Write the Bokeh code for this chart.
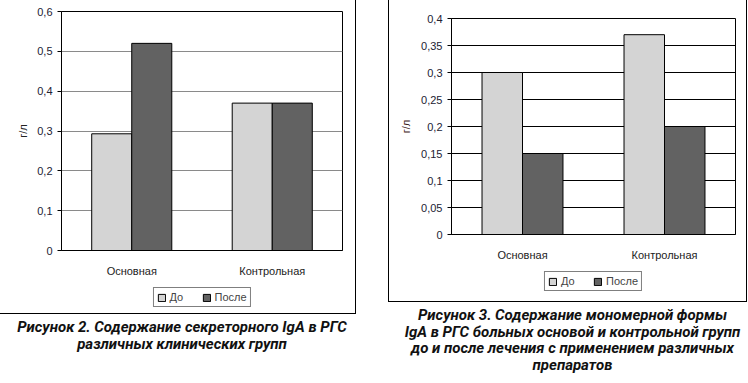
from bokeh.plotting import figure
from bokeh.layouts import row, column
from bokeh.models import (FactorRange, Range1d, FixedTicker, CustomJSTickFormatter,
                          Legend, LegendItem, Div, ColumnDataSource)
from bokeh.transform import dodge
from bokeh.embed import file_html
from bokeh.resources import INLINE

categories = ["Основная", "Контрольная"]
series_names = ["До", "После"]
fig2_before = [0.293, 0.37]
fig2_after = [0.52, 0.37]
fig2_ticks = [0, 0.1, 0.2, 0.3, 0.4, 0.5, 0.6]
fig3_before = [0.30, 0.37]
fig3_after = [0.15, 0.20]
fig3_ticks = [0, 0.05, 0.1, 0.15, 0.2, 0.25, 0.3, 0.35, 0.4]
y_label = "г/л"
caption2 = ["Рисунок 2. Содержание секреторного IgA в РГС", "различных клинических групп"]
caption3 = ["Рисунок 3. Содержание мономерной формы",
            "IgA в РГС больных основой и контрольной групп",
            "до и после лечения с применением различных",
            "препаратов"]

FONT = "Liberation Sans"
C_BEFORE = "#d4d4d4"
C_AFTER = "#626262"
BL = 62


def make_chart(src, ticks, width, height, top, right, grid_color, label_color, standoff):
    p = figure(x_range=FactorRange(factors=categories), y_range=Range1d(0, ticks[-1]),
               width=width, height=height, output_backend="svg", toolbar_location=None,
               min_border_left=BL, min_border_right=right, min_border_top=top,
               min_border_bottom=28)
    p.vbar(x=dodge("cat", -0.1425, range=p.x_range), top="before", width=0.285,
           source=src, fill_color=C_BEFORE, line_color="black", line_width=1)
    p.vbar(x=dodge("cat", 0.1425, range=p.x_range), top="after", width=0.285,
           source=src, fill_color=C_AFTER, line_color="black", line_width=1)
    p.outline_line_color = "black"
    p.outline_line_width = 1
    p.xgrid.grid_line_color = None
    p.ygrid.grid_line_color = grid_color
    p.ygrid.grid_line_width = 1
    p.ygrid.ticker = FixedTicker(ticks=ticks)
    p.yaxis.ticker = FixedTicker(ticks=ticks)
    p.yaxis.formatter = CustomJSTickFormatter(
        code="return String(Math.round(tick*100)/100).replace('.', ',');")
    p.yaxis.axis_label = y_label
    p.yaxis.axis_label_text_font = FONT
    p.yaxis.axis_label_text_font_style = "normal"
    p.yaxis.axis_label_text_font_size = "11px"
    p.yaxis.axis_label_text_color = label_color
    p.yaxis.axis_label_standoff = standoff
    p.yaxis.major_label_text_font = FONT
    p.yaxis.major_label_text_font_size = "11px"
    p.yaxis.major_label_text_color = "#222233"
    p.yaxis.major_tick_in = 0
    p.yaxis.major_tick_out = 4
    p.yaxis.minor_tick_line_color = None
    p.yaxis.axis_line_color = "black"
    p.xaxis.major_label_text_font = FONT
    p.xaxis.major_label_text_font_size = "11px"
    p.xaxis.major_label_text_color = "#222222"
    p.xaxis.major_tick_line_color = None
    p.xaxis.major_label_standoff = 8
    p.xaxis.axis_line_color = "black"
    return p


def make_legend(src, width, height, right):
    # legend-only strip: bars lie outside its visible y range, only legend shows
    q = figure(x_range=FactorRange(factors=categories), y_range=Range1d(1, 2),
               width=width, height=height, output_backend="svg", toolbar_location=None,
               x_axis_location=None, y_axis_location=None,
               min_border_left=BL, min_border_right=right, min_border_top=0, min_border_bottom=0)
    q.xgrid.grid_line_color = None
    q.ygrid.grid_line_color = None
    q.outline_line_color = None
    r1 = q.vbar(x="cat", top="before", width=0.285, source=src,
                fill_color=C_BEFORE, line_color="black")
    r2 = q.vbar(x="cat", top="after", width=0.285, source=src,
                fill_color=C_AFTER, line_color="black")
    legend = Legend(items=[LegendItem(label=series_names[0], renderers=[r1]),
                           LegendItem(label=series_names[1], renderers=[r2])],
                    orientation="horizontal", location="top_center")
    legend.border_line_color = "black"
    legend.border_line_width = 1
    legend.label_text_font = FONT
    legend.label_text_font_size = "11px"
    legend.label_height = 12
    legend.glyph_height = 9
    legend.glyph_width = 9
    legend.padding = 3
    legend.spacing = 12
    legend.margin = 8
    legend.label_standoff = 4
    q.add_layout(legend, "center")
    return q


def caption(lines, width, lh):
    html = "<br>".join(lines)
    return Div(text=html, width=width,
               styles={"font-family": "'Liberation Sans Narrow', 'Roboto', sans-serif",
                       "font-weight": "bold", "font-style": "italic",
                       "font-size": "15px", "line-height": lh,
                       "text-align": "center", "color": "#111111",
                       "width": f"{width}px"})


def boxed(chart, leg):
    b = column(chart, leg, spacing=0)
    b.stylesheets = [":host { border: 1px solid black; }"]
    return b


src2 = ColumnDataSource(dict(cat=categories, before=fig2_before, after=fig2_after))
src3 = ColumnDataSource(dict(cat=categories, before=fig3_before, after=fig3_after))

p1 = make_chart(src2, fig2_ticks, 356, 280, 12, 13, "#8a8a8a", "#222222", 5)
l1 = make_legend(src2, 356, 34, 13)
p2 = make_chart(src3, fig3_ticks, 357, 264, 19, 11, "black", "#3a2020", 6)
l2 = make_legend(src3, 357, 38, 11)

left = column(boxed(p1, l1), caption(caption2, 358, "17px"), spacing=0)
right = column(boxed(p2, l2), caption(caption3, 359, "16.5px"), spacing=0)

layout = row(left, right, spacing=22)
layout.margin = (-2, 0, 0, -2)

open("out.html", "w").write(file_html(layout, INLINE))
